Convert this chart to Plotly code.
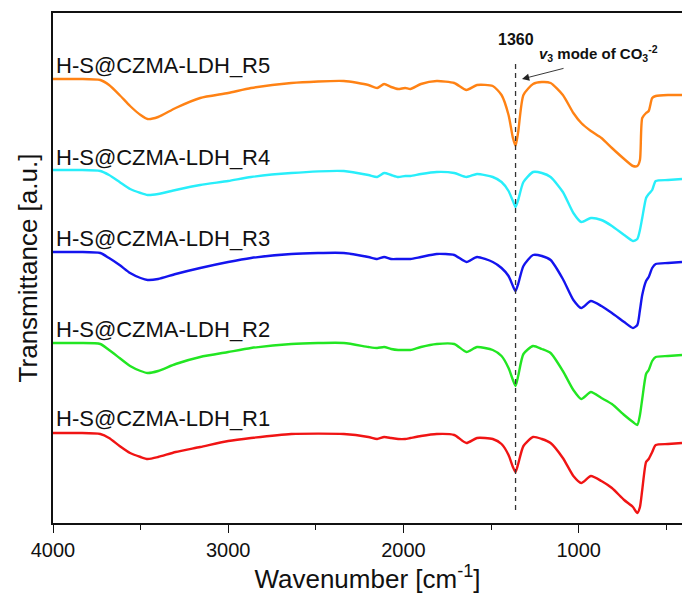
import plotly.graph_objects as go

wavenumber = [4000, 3850, 3730, 3680, 3620, 3560, 3500, 3460, 3400, 3300,
              3160, 3000, 2870, 2640, 2340, 2200, 2150, 2110, 2070, 2030,
              1990, 1960, 1900, 1810, 1710, 1640, 1580, 1490, 1440, 1400,
              1375, 1360, 1345, 1315, 1260, 1210, 1160, 1090, 1030, 985,
              930, 870, 810, 740, 690, 665, 650, 637, 615, 600,
              580, 560, 490, 410]

r5 = [444, 444, 443, 438, 428, 417, 408, 404, 406, 415,
      425, 430, 435, 440, 442, 438, 435, 439, 436, 434,
      435, 434, 439, 442, 440, 433, 438, 437, 428, 408,
      385, 377, 391, 428, 439, 441, 440, 428, 410, 400,
      392, 385, 375, 364, 357, 357, 363, 405, 410, 412,
      425, 427, 428, 428]

r4 = [353, 353, 352, 348, 341, 334, 330, 328, 329, 333,
      338, 342, 346, 350, 352, 348, 346, 350, 348, 346,
      347, 347, 349, 351, 350, 346, 349, 346, 341, 332,
      322, 316, 323, 341, 351, 350, 346, 331, 310, 301,
      305, 303, 297, 288, 282, 284, 293, 305, 325, 329,
      333, 342, 343, 344]

r3 = [271, 271, 270, 265, 258, 250, 245, 243, 244, 249,
      255, 261, 265, 269, 270, 266, 264, 266, 264, 264,
      264, 264, 266, 269, 268, 261, 266, 261, 255, 247,
      237, 232, 239, 257, 268, 267, 263, 244, 223, 215,
      222, 217, 210, 201, 195, 198, 213, 228, 242, 246,
      255, 259, 260, 261]

r2 = [180, 180, 179, 173, 165, 157, 152, 150, 152, 159,
      166, 171, 175, 179, 180, 176, 175, 176, 174, 173,
      173, 173, 176, 179, 179, 171, 176, 173, 167, 155,
      143, 137, 147, 169, 177, 174, 170, 152, 133, 124,
      131, 125, 119, 108, 101, 98, 108, 124, 149, 153,
      162, 166, 167, 168]

r1 = [90, 90, 89, 85, 77, 70, 66, 64, 66, 71,
      76, 82, 85, 89, 89, 86, 84, 86, 85, 84,
      84, 85, 87, 89, 88, 80, 85, 84, 79, 68,
      56, 51, 59, 77, 86, 84, 80, 65, 47, 40,
      47, 42, 35, 23, 16, 10, 16, 33, 61, 64,
      71, 78, 79, 80]

series_names = ["H-S@CZMA-LDH_R1", "H-S@CZMA-LDH_R2", "H-S@CZMA-LDH_R3",
                "H-S@CZMA-LDH_R4", "H-S@CZMA-LDH_R5"]
series_values = [r1, r2, r3, r4, r5]
series_colors = ["#F01414", "#22E622", "#1414EE", "#28EEFA", "#FF8214"]
label_y = [105, 194, 285, 366, 458]

peak_pos = 1360
peak_label = "1360"
mode_label = "<b><i>v</i><sub>3</sub> mode of CO<sub>3</sub><sup>-2</sup></b>"

FONT = "Liberation Sans, Arial, sans-serif"

fig = go.Figure()
for name, vals, col in zip(series_names, series_values, series_colors):
    fig.add_trace(go.Scatter(x=wavenumber, y=vals, mode="lines", name=name,
                             line=dict(color=col, width=2.4, shape="spline", smoothing=0.6),
                             showlegend=False, hoverinfo="skip"))

annotations = []
for name, ly in zip(series_names, label_y):
    annotations.append(dict(x=3995, y=ly, xref="x", yref="y", text=name,
                            showarrow=False, xanchor="left", yanchor="middle",
                            font=dict(family=FONT, size=22, color="#111111")))

annotations.append(dict(x=peak_pos, y=484, xref="x", yref="y", text="<b>" + peak_label + "</b>",
                        showarrow=False, xanchor="center", yanchor="middle",
                        font=dict(family=FONT, size=16, color="#111111")))
annotations.append(dict(x=889, y=470, xref="x", yref="y", text=mode_label,
                        showarrow=False, xanchor="center", yanchor="middle",
                        font=dict(family=FONT, size=15, color="#111111")))
annotations.append(dict(x=1323, y=444, xref="x", yref="y", text="",
                        showarrow=True, ax=43, ay=-11, arrowhead=2, arrowsize=1.6,
                        arrowwidth=0.9, arrowcolor="#222222"))

fig.add_shape(type="line", x0=peak_pos, x1=peak_pos, y0=13, y1=461, xref="x", yref="y",
              line=dict(color="#333333", width=1.3, dash="5px,4px"))

fig.update_layout(
    width=682, height=608,
    margin=dict(l=53, r=0, t=13, b=85),
    plot_bgcolor="white", paper_bgcolor="white",
    annotations=annotations,
    font=dict(family=FONT, color="#111111"),
)
fig.update_xaxes(range=[4000, 410], tickvals=[4000, 3000, 2000, 1000],
                 ticks="outside", ticklen=8, tickwidth=1.3, tickcolor="#111111",
                 minor=dict(dtick=500, tick0=0, ticks="outside", ticklen=5, tickwidth=1.3, tickcolor="#111111"),
                 showline=True, linecolor="#111111", linewidth=1.5, mirror=True,
                 showgrid=False, zeroline=False,
                 tickfont=dict(family=FONT, size=20, color="#111111"),
                 title=dict(text="Wavenumber [cm<sup>-1</sup>]", standoff=10,
                            font=dict(family=FONT, size=26, color="#111111")))
fig.update_yaxes(range=[0, 510], showticklabels=False, ticks="",
                 showline=True, linecolor="#111111", linewidth=1.5,
                 showgrid=False, zeroline=False,
                 title=dict(text="Transmittance [a.u.]", standoff=6,
                            font=dict(family=FONT, size=26, color="#111111")))

fig.write_html("out.html", config={"displayModeBar": False},
               post_script="document.body.style.margin='0';document.body.style.overflow='hidden';")
